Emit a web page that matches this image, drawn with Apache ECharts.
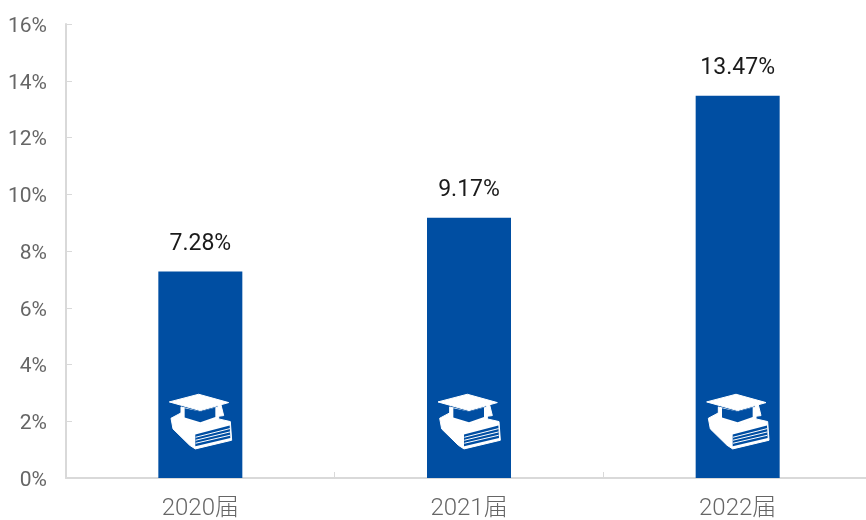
<!DOCTYPE html>
<html><head><meta charset="utf-8">
<style>html,body{margin:0;padding:0;background:#fff}#c{width:866px;height:520px}</style>
<script src="https://cdn.jsdelivr.net/npm/echarts@6/dist/echarts.min.js"></script>
</head><body><div id="c"></div>
<script>
var categories = ['2020届', '2021届', '2022届'];
var rates = [7.28, 9.17, 13.47];
var iconLevel = [2, 2, 2];
var tickLabels = ['0%','2%','4%','6%','8%','10%','12%','14%','16%'];
var FONT = 'Roboto,"Noto Sans CJK SC",sans-serif';
var BLUE = '#004ea2';
// graduation-cap-on-book emblem: local drawing space, 3 units per pixel, anchor at (150,123)
var iconWhite = [
  [[57,65],[145,42],[235,67],[150,91]],
  [[92,80],[150,96],[205,80],[205,116],[150,134],[92,116]],
  [[203,70],[211,70],[220,106],[204,108]],
  [[62,114],[92,98],[100,118],[150,134],[205,116],[240,124],[244,180],[135,206],[118,195],[68,146]]
];
var iconBlue = [
  [[103,84],[150,94],[195,82],[195,110],[150,126],[103,112]],
  [[135,163],[238,136],[240,173],[135,198]]
];
var iconLines = [
  [[136,171],[239,145]],
  [[136,180],[239,155]],
  [[136,189],[239,165]]
];
function place(pts, p) {
  return pts.map(function (q) { return [p[0] + (q[0] - 150) / 3, p[1] + (q[1] - 123) / 3]; });
}
var chart = echarts.init(document.getElementById('c'), null, {renderer:'canvas'});
chart.setOption({
  animation: false,
  backgroundColor: '#fff',
  grid: { left: 66, width: 806, top: 24, height: 454, outerBoundsMode: 'none' },
  xAxis: {
    type: 'category', data: categories,
    axisLine: { lineStyle: { color: '#d9d9d9', width: 2 } },
    axisTick: { show: true, inside: true, length: 6, lineStyle: { color: '#d9d9d9', width: 1 } },
    axisLabel: { color: '#666666', fontSize: 24, fontWeight: 300, fontFamily: FONT, margin: 19 }
  },
  yAxis: {
    type: 'value', min: 0, max: 16, interval: 2,
    axisLine: { show: true, lineStyle: { color: '#d9d9d9', width: 2 } },
    axisTick: { show: true, inside: true, length: 6, lineStyle: { color: '#d9d9d9', width: 1 } },
    splitLine: { show: false },
    axisLabel: { color: '#666666', fontSize: 21, fontFamily: FONT, margin: 19,
      verticalAlign: 'top', lineHeight: 21, padding: [-8, 0, 0, 0],
      formatter: function (v) { return tickLabels[v / 2]; } }
  },
  series: [{
    type: 'bar', data: rates, barWidth: 84, itemStyle: { color: BLUE },
    label: { show: true, position: 'top', distance: 16, color: '#1a1a1a', fontSize: 23, fontFamily: FONT,
      formatter: function (p) { return p.value.toFixed(2) + '%'; } }
  }, {
    type: 'custom', data: iconLevel, z: 5,
    encode: { x: 0, y: 0 },
    renderItem: function (params, api) {
      var p = api.coord([params.dataIndex, api.value(0)]);
      var kids = [];
      iconWhite.forEach(function (s) {
        kids.push({ type: 'polygon', shape: { points: place(s, p) }, style: { fill: '#fff', stroke: '#fff', lineWidth: 1, lineJoin: 'round' } });
      });
      iconBlue.forEach(function (s) {
        kids.push({ type: 'polygon', shape: { points: place(s, p) }, style: { fill: BLUE } });
      });
      iconLines.forEach(function (s) {
        kids.push({ type: 'polyline', shape: { points: place(s, p) }, style: { fill: null, stroke: '#fff', lineWidth: 1 } });
      });
      return { type: 'group', silent: true, children: kids };
    }
  }]
});
</script></body></html>
